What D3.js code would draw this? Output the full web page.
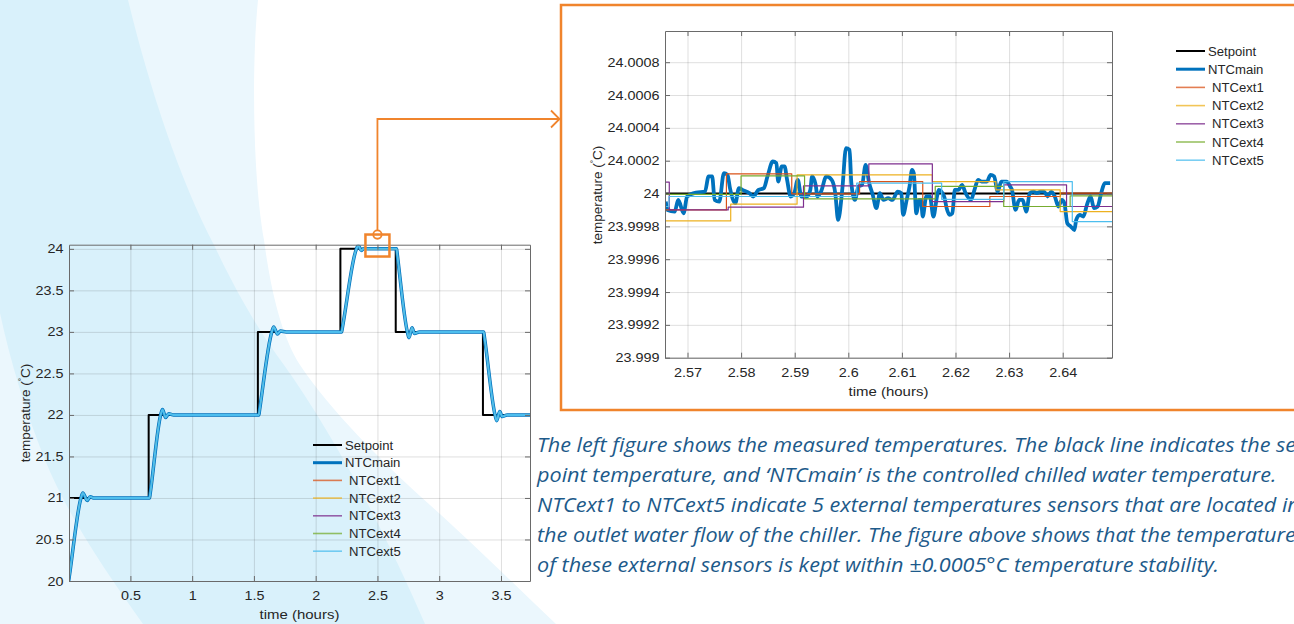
<!DOCTYPE html>
<html>
<head>
<meta charset="utf-8">
<script src="https://cdn.jsdelivr.net/npm/d3@7/dist/d3.min.js"></script>
<style>
  body { margin: 0; background: #fff; overflow: hidden; }
  svg { display: block; }
  text { font-family: "Liberation Sans", Arial, sans-serif; fill: #262626; }
</style>
</head>
<body>
<svg id="chart" width="1294" height="624"></svg>
<script>
// ---- data ----
const seriesNames = ["Setpoint", "NTCmain", "NTCext1", "NTCext2", "NTCext3", "NTCext4", "NTCext5"];
const seriesColors = ["#000000", "#0072BD", "#D95319", "#EDB120", "#7E2F8E", "#77AC30", "#4DBEEE"];

// left figure: whole run
const overviewXTicks = [0.5, 1, 1.5, 2, 2.5, 3, 3.5];
const overviewYTicks = [20, 20.5, 21, 21.5, 22, 22.5, 23, 23.5, 24];
const overviewSetTime = [0, 0.002, 0.648, 1.532, 2.2, 2.648, 3.354, 3.735];
const overviewSetTemp = [20, 21, 22, 23, 24, 23, 22, 22];
const overviewTime = [0, 0.005, 0.10, 0.115, 0.15, 0.175, 0.20,
  0.655, 0.66, 0.745, 0.76, 0.785, 0.81, 0.85,
  1.54, 1.545, 1.645, 1.66, 1.69, 1.715, 1.76,
  2.21, 2.215, 2.33, 2.345, 2.37, 2.39, 2.42,
  2.655, 2.66, 2.742, 2.755, 2.78, 2.80, 2.84,
  3.36, 3.365, 3.452, 3.465, 3.49, 3.51, 3.55, 3.735];
const overviewTemp = [20, 20.05, 21.0, 21.06, 20.97, 21.015, 21.0,
  21.0, 21.05, 22.0, 22.065, 21.97, 22.015, 22.0,
  22.0, 22.05, 23.0, 23.06, 22.975, 23.01, 23.0,
  23.0, 23.04, 24.0, 24.04, 23.98, 24.005, 24.0,
  24.0, 23.94, 23.0, 22.93, 23.05, 22.98, 23.0,
  23.0, 22.95, 22.0, 21.93, 22.04, 21.98, 22.0, 22.0];

// right figure: zoom around 24 degC
const zoomXTicks = [2.57, 2.58, 2.59, 2.6, 2.61, 2.62, 2.63, 2.64];
const zoomYTicks = [23.999, 23.9992, 23.9994, 23.9996, 23.9998, 24, 24.0002, 24.0004, 24.0006, 24.0008];
const zoomYLabels = ["23.999", "23.9992", "23.9994", "23.9996", "23.9998", "24", "24.0002", "24.0004", "24.0006", "24.0008"];
const zoomSetTime = [2.5658, 2.6492];
const zoomSetTemp = [24, 24];
const zoomMainTime = [2.56594, 2.56627, 2.56760, 2.56827, 2.56927, 2.56993, 2.57160, 2.57326, 2.57393, 2.57460,
  2.57506, 2.57593, 2.57679, 2.57746, 2.57792, 2.57892, 2.57959, 2.58026, 2.58159, 2.58225,
  2.58325, 2.58425, 2.58492, 2.58592, 2.58658, 2.58692, 2.58758, 2.58811, 2.58858, 2.58925,
  2.58991, 2.59058, 2.59124, 2.59224, 2.59291, 2.59324, 2.59391, 2.59424, 2.59491, 2.59591,
  2.59690, 2.59757, 2.59810, 2.59890, 2.59957, 2.60023, 2.60057, 2.60123, 2.60190, 2.60257,
  2.60323, 2.60390, 2.60456, 2.60523, 2.60589, 2.60656, 2.60743, 2.60823, 2.60922, 2.60989,
  2.61022, 2.61089, 2.61142, 2.61189, 2.61222, 2.61269, 2.61322, 2.61355, 2.61389, 2.61455,
  2.61522, 2.61588, 2.61655, 2.61688, 2.61788, 2.61835, 2.61888, 2.61941, 2.61988, 2.62055,
  2.62121, 2.62188, 2.62288, 2.62354, 2.62421, 2.62487, 2.62587, 2.62654, 2.62721, 2.62787,
  2.62854, 2.62954, 2.63020, 2.63054, 2.63120, 2.63187, 2.63253, 2.63320, 2.63386, 2.63453,
  2.63520, 2.63586, 2.63653, 2.63719, 2.63786, 2.63853, 2.63919, 2.63986, 2.64032, 2.64086,
  2.64152, 2.64219, 2.64252, 2.64319, 2.64385, 2.64452, 2.64519, 2.64585, 2.64652, 2.64718,
  2.64785, 2.64885];
const zoomMainTemp = [23.999951, 23.999900, 23.999890, 23.999961, 23.999880, 23.999982, 24.000006, 24.000012, 24.000104, 24.000104,
  23.999961, 23.999951, 24.000124, 24.000114, 24.000033, 23.999941, 24.000033, 24.000022, 24.000002, 23.999982,
  24.000022, 24.000033, 24.000104, 24.000195, 24.000185, 24.000073, 24.000165, 24.000165, 24.000083, 23.999982,
  24.000002, 24.000083, 23.999982, 23.999982, 24.000022, 24.000104, 24.000053, 23.999982, 24.000012, 24.000104,
  24.000083, 24.000002, 23.999839, 24.000033, 24.000276, 24.000266, 24.000063, 23.999961, 24.000043, 24.000053,
  24.000175, 24.000063, 23.999992, 23.999911, 24.000002, 23.999961, 23.999972, 23.999961, 24.000012, 24.000002,
  23.999870, 23.999961, 24.000043, 24.000144, 24.000124, 23.999880, 23.999961, 23.999961, 23.999860, 23.999982,
  23.999982, 23.999860, 23.999982, 24.000022, 23.999982, 23.999911, 23.999870, 23.999880, 24.000022, 24.000022,
  24.000053, 24.000002, 23.999961, 24.000022, 24.000083, 24.000073, 24.000073, 24.000114, 24.000104, 24.000012,
  24.000073, 24.000073, 24.000043, 24.000022, 23.999900, 23.999961, 23.999961, 23.999890, 24.000002, 24.000012,
  24.000002, 24.000012, 24.000012, 23.999982, 24.000012, 23.999982, 23.999921, 23.999961, 23.999941, 23.999819,
  23.999799, 23.999778, 23.999839, 23.999870, 23.999860, 23.999931, 23.999982, 23.999911, 23.999921, 24.000002,
  24.000063, 24.000063];
const ext1Time = [2.5658, 2.57726, 2.58945, 2.60210, 2.61389, 2.62641, 2.63959, 2.6492];
const ext1Temp = [23.999900, 24.000120, 23.999998, 24.000073, 23.999921, 23.999982, 24.000002, 24.000002];
const ext2Time = [2.5658, 2.57806, 2.59044, 2.61568, 2.62754, 2.63953, 2.6492];
const ext2Temp = [23.999833, 23.999935, 24.000114, 24.000073, 24.000022, 23.999890, 23.999890];
const ext3Time = [2.5658, 2.56660, 2.57759, 2.59164, 2.60383, 2.61568, 2.62900, 2.64072, 2.6492];
const ext3Temp = [24.000069, 23.999900, 23.999917, 24.000047, 24.000181, 23.999951, 24.000053, 23.999921, 23.999921];
const ext4Time = [2.5658, 2.57999, 2.59184, 2.61622, 2.62900, 2.64139, 2.6492];
const ext4Temp = [23.999995, 24.000108, 23.999967, 24.000043, 23.999921, 23.999986, 23.999986];
const ext5Time = [2.5658, 2.56654, 2.60157, 2.61742, 2.62900, 2.64179, 2.6492];
const ext5Temp = [23.999921, 23.999982, 24.000063, 23.999965, 24.000073, 23.999829, 23.999829];

const noteLines = [
  "The left figure shows the measured temperatures. The black line indicates the set",
  "point temperature, and \u2018NTCmain\u2019 is the controlled chilled water temperature.",
  "NTCext1 to NTCext5 indicate 5 external temperatures sensors that are located in",
  "the outlet water flow of the chiller. The figure above shows that the temperature",
  "of these external sensors is kept within \u00b10.0005\u00b0C temperature stability."
];

const zip = (t, v) => t.map((d, i) => ({ t: d, v: v[i] }));

const svg = d3.select("#chart");
const orange = "#f0842c";

// background blobs
svg.append("path")
  .attr("d", "M0,0 L258,0 C252,60 252,170 264,240 C272,300 284,340 300,365 C330,410 380,460 430,505 C480,550 520,590 556,624 L0,624 Z")
  .attr("fill", "#ebf7fd");
svg.append("path")
  .attr("d", "M0,0 L128,0 C150,90 180,180 214,245 C240,300 262,335 284,365 C330,430 380,520 425,624 L143,624 C105,570 70,520 45,460 C25,410 10,360 0,313 Z")
  .attr("fill", "#d9f1fb");

// orange frame around the zoomed figure
svg.append("rect").attr("x", 561).attr("y", 5).attr("width", 800).attr("height", 405)
  .attr("fill", "#fff").attr("stroke", orange).attr("stroke-width", 2.5);

function stretch(sel, k) {
  sel.each(function () {
    const w = this.getComputedTextLength();
    d3.select(this).attr("textLength", w * k).attr("lengthAdjust", "spacingAndGlyphs");
  });
}

function panel(o) {
  const g = svg.append("g");
  const x = d3.scaleLinear().domain(o.xDomain).range([o.left, o.right]);
  const y = d3.scaleLinear().domain(o.yDomain).range([o.bottom, o.top]);
  const h = o.bottom - o.top, w = o.right - o.left;

  // grid
  g.append("g").attr("transform", `translate(0,${o.bottom})`)
    .call(d3.axisBottom(x).tickValues(o.xTicks).tickSize(-h).tickFormat(""))
    .call(s => { s.select(".domain").remove(); s.selectAll("line").attr("stroke", "#262626").attr("stroke-opacity", 0.15); });
  g.append("g").attr("transform", `translate(${o.left},0)`)
    .call(d3.axisLeft(y).tickValues(o.yTicks).tickSize(-w).tickFormat(""))
    .call(s => { s.select(".domain").remove(); s.selectAll("line").attr("stroke", "#262626").attr("stroke-opacity", 0.15); });

  // lines
  const clipId = "clip" + o.id;
  g.append("clipPath").attr("id", clipId).append("rect")
    .attr("x", o.left).attr("y", o.top).attr("width", w).attr("height", h);
  const lines = g.append("g").attr("clip-path", `url(#${clipId})`);
  o.series.forEach(s => {
    lines.append("path")
      .datum(s.data)
      .attr("fill", "none")
      .attr("stroke", s.color)
      .attr("stroke-width", s.width)
      .attr("stroke-linejoin", "round")
      .attr("d", d3.line().x(d => x(d.t)).y(d => y(d.v)).curve(s.curve)(s.data));
  });

  // axes box with inward ticks
  const fmtY = o.yLabels ? (d, i) => o.yLabels[i] : d3.format("");
  const styleAxis = s => {
    s.select(".domain").attr("stroke", "#6a6a6a");
    s.selectAll(".tick line").attr("stroke", "#6a6a6a");
    s.selectAll("text").attr("fill", "#262626").style("font-size", "12.5px").style("font-family", "Liberation Sans, Arial");
  };
  const xb = g.append("g").attr("transform", `translate(0,${o.bottom})`)
    .call(d3.axisBottom(x).tickValues(o.xTicks).tickSize(-5).tickSizeOuter(0).tickPadding(10).tickFormat(d3.format(""))).call(styleAxis);
  g.append("g").attr("transform", `translate(0,${o.top})`)
    .call(d3.axisTop(x).tickValues(o.xTicks).tickSize(-5).tickSizeOuter(0).tickFormat("")).call(styleAxis);
  const yl = g.append("g").attr("transform", `translate(${o.left},0)`)
    .call(d3.axisLeft(y).tickValues(o.yTicks).tickSize(-5).tickSizeOuter(0).tickPadding(5.5).tickFormat(fmtY)).call(styleAxis);
  g.append("g").attr("transform", `translate(${o.right},0)`)
    .call(d3.axisRight(y).tickValues(o.yTicks).tickSize(-5).tickSizeOuter(0).tickFormat("")).call(styleAxis);
  stretch(xb.selectAll("text"), 1.15);
  stretch(yl.selectAll("text"), 1.15);

  // axis titles
  const xt = g.append("text").attr("x", (o.left + o.right) / 2).attr("y", o.xTitleY)
    .attr("text-anchor", "middle").style("font-size", "13px").text("time (hours)");
  stretch(xt, 1.15);
  const yt = g.append("text").attr("transform", `translate(${o.yTitleX},${o.yTitleY}) rotate(-90)`)
    .attr("text-anchor", "middle").style("font-size", "13.5px");
  yt.append("tspan").text("temperature (");
  yt.append("tspan").attr("dy", -6).style("font-size", "8px").text("\u00b0");
  yt.append("tspan").attr("dy", 6).text("C)");

  // legend (no box, like MATLAB)
  const lg = g.append("g");
  seriesNames.forEach((name, i) => {
    const yy = o.legendY + i * o.legendStep;
    lg.append("line").attr("x1", o.legendX).attr("x2", o.legendX + 29).attr("y1", yy).attr("y2", yy)
      .attr("stroke", seriesColors[i]).attr("stroke-width", i === 0 ? 2 : i === 1 ? 3 : 1.6)
      .attr("stroke-opacity", i > 1 ? 0.75 : 1);
    const t = lg.append("text").attr("x", o.legendX + (i > 1 ? 36 : 32)).attr("y", yy + 4.5)
      .style("font-size", "12.5px").text(name);
    stretch(t, 1.05);
  });
  return { x, y };
}

const overviewMain = zip(overviewTime, overviewTemp);
const left = panel({
  id: "L", left: 69, right: 530, top: 244.7, bottom: 581,
  xDomain: [0.003, 3.735], yDomain: [20, 24.05],
  xTicks: overviewXTicks, yTicks: overviewYTicks,
  xTitleY: 619, yTitleX: 30, yTitleY: 413,
  legendX: 313, legendY: 445, legendStep: 17.7,
  series: [
    { data: zip(overviewSetTime, overviewSetTemp), color: seriesColors[0], width: 2, curve: d3.curveStepAfter },
    { data: overviewMain, color: seriesColors[1], width: 3.5, curve: d3.curveMonotoneX },
    { data: overviewMain, color: seriesColors[2], width: 1, curve: d3.curveMonotoneX },
    { data: overviewMain, color: seriesColors[3], width: 1, curve: d3.curveMonotoneX },
    { data: overviewMain, color: seriesColors[4], width: 1, curve: d3.curveMonotoneX },
    { data: overviewMain, color: seriesColors[5], width: 1, curve: d3.curveMonotoneX },
    { data: overviewMain, color: seriesColors[6], width: 2, curve: d3.curveMonotoneX }
  ]
});

panel({
  id: "R", left: 665, right: 1112, top: 31, bottom: 357.7,
  xDomain: [2.5658, 2.6492], yDomain: [23.999, 24.00099],
  xTicks: zoomXTicks, yTicks: zoomYTicks, yLabels: zoomYLabels,
  xTitleY: 396, yTitleX: 602, yTitleY: 195,
  legendX: 1176, legendY: 51, legendStep: 18.2,
  series: [
    { data: zip(zoomSetTime, zoomSetTemp), color: seriesColors[0], width: 2, curve: d3.curveLinear },
    { data: zip(zoomMainTime, zoomMainTemp), color: seriesColors[1], width: 3.8, curve: d3.curveMonotoneX },
    { data: zip(ext1Time, ext1Temp), color: seriesColors[2], width: 1.2, curve: d3.curveStepAfter },
    { data: zip(ext2Time, ext2Temp), color: seriesColors[3], width: 1.2, curve: d3.curveStepAfter },
    { data: zip(ext3Time, ext3Temp), color: seriesColors[4], width: 1.2, curve: d3.curveStepAfter },
    { data: zip(ext4Time, ext4Temp), color: seriesColors[5], width: 1.2, curve: d3.curveStepAfter },
    { data: zip(ext5Time, ext5Temp), color: seriesColors[6], width: 1.2, curve: d3.curveStepAfter }
  ]
});

// marker box on the left figure and the arrow to the zoomed figure
const bx = left.x(2.5), by = left.y(24.04);
svg.append("rect").attr("x", bx - 12).attr("y", by - 11).attr("width", 24).attr("height", 22)
  .attr("fill", "none").attr("stroke", orange).attr("stroke-width", 2.5);
svg.append("circle").attr("cx", bx).attr("cy", by - 11).attr("r", 4.2)
  .attr("fill", "none").attr("stroke", orange).attr("stroke-width", 1.8);
svg.append("path").attr("d", `M${bx},${by - 15.2} V119 H559`)
  .attr("fill", "none").attr("stroke", orange).attr("stroke-width", 1.8);
svg.append("path").attr("d", "M551,110.5 L559.5,119 L551,127.5")
  .attr("fill", "none").attr("stroke", orange).attr("stroke-width", 1.8);

// caption
const note = svg.append("g");
noteLines.forEach((line, i) => {
  note.append("text").attr("x", 537).attr("y", 452 + i * 30)
    .style("font-family", "'Open Sans', sans-serif").style("font-style", "italic")
    .style("font-size", "20.5px").style("fill", "#1d5a8a").text(line);
});
const lastW = note.selectAll("text").nodes()[4].getComputedTextLength();
stretch(note.selectAll("text"), 682 / lastW);
</script>
</body>
</html>
